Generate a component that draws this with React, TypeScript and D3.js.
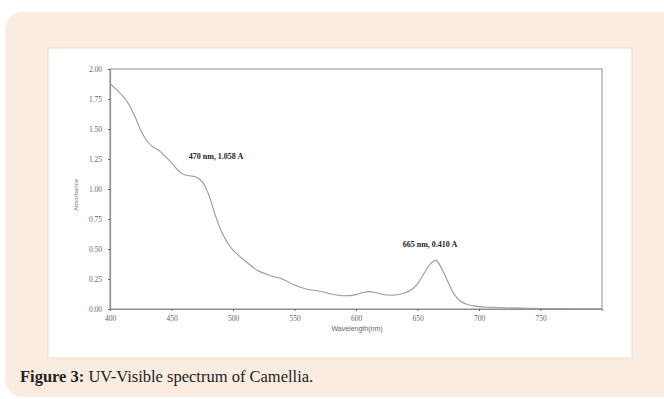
import React, { useEffect, useRef } from "react";
import * as d3 from "d3";

// spectrum
const wavelengths = [400, 405, 410, 415, 420, 425, 430, 435, 440, 445, 450, 455, 460, 465, 470, 475, 480, 485, 490, 495, 500, 510, 520, 530, 540, 550, 560, 570, 580, 590, 600, 605, 610, 615, 620, 630, 640, 645, 650, 655, 660, 665, 670, 675, 680, 685, 690, 700, 710, 720, 740, 760, 780, 800];
const absorbance = [1.88, 1.83, 1.78, 1.71, 1.61, 1.49, 1.40, 1.35, 1.32, 1.27, 1.22, 1.16, 1.12, 1.11, 1.1, 1.06, 0.96, 0.8, 0.66, 0.56, 0.49, 0.4, 0.32, 0.28, 0.25, 0.2, 0.165, 0.15, 0.125, 0.11, 0.12, 0.135, 0.145, 0.14, 0.125, 0.115, 0.135, 0.16, 0.21, 0.29, 0.37, 0.405, 0.33, 0.22, 0.12, 0.065, 0.04, 0.02, 0.014, 0.01, 0.006, 0.004, 0.002, 0.001];
const xTicks = [400, 450, 500, 550, 600, 650, 700, 750];
const yTicks = [0, 0.25, 0.5, 0.75, 1.0, 1.25, 1.5, 1.75, 2.0];
// annotation anchors (left edge of text, baseline) in data units
const peakLabels = [
  { x: 464, y: 1.25, text: "470 nm, 1.058 A" },
  { x: 638, y: 0.52, text: "665 nm, 0.410 A" },
];

const App = () => {
  const svgRef = useRef<SVGSVGElement>(null);

  useEffect(() => {
    const svg = d3.select(svgRef.current);
    svg.selectAll("*").remove();

    //background panel + white figure box
    svg.append("rect").attr("x", 5).attr("y", 12).attr("width", 680).attr("height", 385)
      .attr("rx", 18).attr("fill", "#fbece2");
    svg.append("rect").attr("x", 48).attr("y", 48).attr("width", 584).attr("height", 310)
      .attr("fill", "#fff").attr("stroke", "#eddccf").attr("stroke-width", 1);

    const x = d3.scaleLinear().domain([400, 800]).range([110, 602]);
    const y = d3.scaleLinear().domain([0, 2]).range([309, 69]);

    //frame
    svg.append("rect").attr("x", 110).attr("y", 69).attr("width", 492).attr("height", 240)
      .attr("fill", "none").attr("stroke", "#a0a0a0").attr("stroke-width", 1.2);

    const xAxis = d3.axisBottom(x).tickValues(xTicks).tickSize(2).tickFormat(d3.format("d"));
    const yAxis = d3.axisLeft(y).tickValues(yTicks).tickSize(2).tickFormat(d3.format(".2f"));

    const gx = svg.append("g").attr("transform", "translate(0,309)").call(xAxis);
    const gy = svg.append("g").attr("transform", "translate(110,0)").call(yAxis);
    [gx, gy].forEach(g => {
      g.select(".domain").attr("stroke", "#909090").attr("stroke-width", 1.2);
      g.selectAll(".tick line").attr("stroke", "#666");
      g.selectAll(".tick text").attr("fill", "#666")
        .style("font-family", "Liberation Serif").style("font-size", "7.5px");
    });
    gx.selectAll(".tick text").attr("dy", "0.9em");
    gy.selectAll(".tick text").attr("dx", "-0.4em");

    svg.append("text").attr("x", 357).attr("y", 331).attr("text-anchor", "middle")
      .style("font-family", "Liberation Sans").style("font-size", "7px").attr("fill", "#666")
      .text("Wavelength(nm)");
    svg.append("text").attr("transform", "translate(78,195) rotate(-90)").attr("text-anchor", "middle")
      .style("font-family", "Liberation Sans").style("font-size", "6px").attr("fill", "#777")
      .text("Absorbance");

    const line = d3.line<number>()
      .x((d, i) => x(wavelengths[i]))
      .y(d => y(d))
      .curve(d3.curveCatmullRom.alpha(0.5));
    svg.append("path").datum(absorbance).attr("d", line)
      .attr("fill", "none").attr("stroke", "#9a9a9a").attr("stroke-width", 1.1);

    svg.selectAll(".peak").data(peakLabels).join("text")
      .attr("x", d => x(d.x)).attr("y", d => y(d.y))
      .style("font-family", "Liberation Serif").style("font-size", "8px").style("font-weight", "bold")
      .attr("fill", "#222").text(d => d.text);

    //caption
    const cap = svg.append("text").attr("x", 20).attr("y", 382)
      .style("font-family", "Liberation Serif").style("font-size", "16.5px").attr("fill", "#222");
    cap.append("tspan").style("font-weight", "bold").text("Figure 3:");
    cap.append("tspan").text(" UV-Visible spectrum of Camellia.");
  }, []);

  return (
    <svg ref={svgRef} width={664} height={399}
      style={{ position: "absolute", left: 0, top: 0, background: "#fff" }} />
  );
};

export default App;
